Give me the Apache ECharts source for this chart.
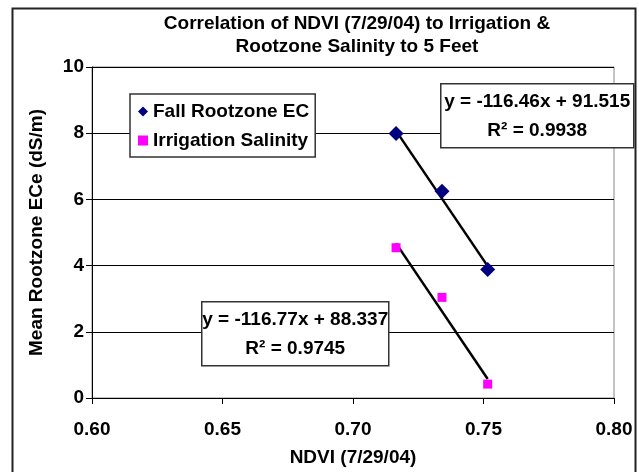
<!DOCTYPE html>
<html>
<head>
<meta charset="utf-8">
<style>
  html, body { margin: 0; padding: 0; background: #fff; }
  #chart { width: 639px; height: 472px; }
</style>
<script src="https://cdn.jsdelivr.net/npm/echarts@6/dist/echarts.min.js"></script>
</head>
<body>
<div id="chart"></div>
<script>
// NDVI on 7/29/04 for the three fields
const ndvi = [0.7165, 0.7341, 0.7516]
const fallRootzoneEC = [7.99, 6.25, 3.88]
const irrigationSalinity = [4.54, 3.04, 0.42]

// linear trendlines as printed on the chart
const fallFit = [-116.46, 91.515]
const irrigationFit = [-116.77, 88.337]
const fallLabel = ['y = -116.46x + 91.515', 'R² = 0.9938']
const irrigationLabel = ['y = -116.77x + 88.337', 'R² = 0.9745']

const font = 'Liberation Sans, Arial, sans-serif'
const fs = 19

function trend(fit) {
  const x0 = Math.min(...ndvi)
  const x1 = Math.max(...ndvi)
  return [[x0, fit[0] * x0 + fit[1]], [x1, fit[0] * x1 + fit[1]]]
}

function eqBox(left, top, width, lines) {
  return {
    type: 'group',
    left: left,
    top: top,
    z: 100,
    children: [
      {
        type: 'rect',
        z: 100,
        shape: { x: 0, y: 0, width: width, height: 64 },
        style: { fill: '#fff', stroke: '#333', lineWidth: 1.5 }
      },
      {
        type: 'text',
        z: 101,
        x: width / 2,
        y: 33,
        style: {
          text: lines.join('\n'),
          align: 'center',
          verticalAlign: 'middle',
          lineHeight: 29,
          font: 'bold ' + fs + 'px ' + font,
          fill: '#000'
        }
      }
    ]
  }
}

const chart = echarts.init(document.getElementById('chart'))

chart.setOption({
  backgroundColor: '#fff',
  animation: false,
  textStyle: { fontFamily: font },
  title: {
    text: 'Correlation of NDVI (7/29/04) to Irrigation &\nRootzone Salinity to 5 Feet',
    left: 352,
    top: 7,
    textAlign: 'center',
    textStyle: {
      fontSize: fs,
      fontWeight: 'bold',
      lineHeight: 23,
      color: '#000'
    }
  },
  legend: {
    data: ['Fall Rootzone EC', 'Irrigation Salinity'],
    orient: 'vertical',
    left: 130,
    top: 94,
    padding: [8, 6, 7, 8],
    itemGap: 10,
    itemWidth: 10,
    itemHeight: 10,
    backgroundColor: '#fff',
    borderColor: '#333',
    borderWidth: 1.5,
    z: 100,
    textStyle: { fontSize: fs, fontWeight: 'bold', color: '#000' }
  },
  grid: {
    left: 92,
    right: 25,
    top: 67,
    bottom: 72,
    show: true,
    borderColor: '#888',
    borderWidth: 1
  },
  xAxis: {
    type: 'value',
    min: 0.6,
    max: 0.8,
    interval: 0.05,
    name: 'NDVI (7/29/04)',
    nameLocation: 'middle',
    nameGap: 50,
    nameTextStyle: { fontSize: fs, fontWeight: 'bold', color: '#000' },
    axisLine: { lineStyle: { color: '#000', width: 1 } },
    axisTick: { show: true, length: 6, lineStyle: { color: '#000' } },
    axisLabel: {
      formatter: v => v.toFixed(2),
      fontSize: fs,
      fontWeight: 'bold',
      color: '#000',
      margin: 22
    },
    splitLine: { show: false }
  },
  yAxis: {
    type: 'value',
    min: 0,
    max: 10,
    interval: 2,
    name: 'Mean Rootzone ECe (dS/m)',
    nameLocation: 'middle',
    nameGap: 46,
    nameTextStyle: { fontSize: fs, fontWeight: 'bold', color: '#000' },
    axisLine: { show: true, lineStyle: { color: '#000', width: 1 } },
    axisTick: { show: true, length: 6, lineStyle: { color: '#000' } },
    axisLabel: { fontSize: fs, fontWeight: 'bold', color: '#000', margin: 8 },
    splitLine: { lineStyle: { color: '#000', width: 1 } }
  },
  series: [
    {
      name: 'Fall trend',
      type: 'line',
      data: trend(fallFit),
      symbol: 'none',
      lineStyle: { color: '#000', width: 2.5 },
      z: 2
    },
    {
      name: 'Irrigation trend',
      type: 'line',
      data: trend(irrigationFit),
      symbol: 'none',
      lineStyle: { color: '#000', width: 2.5 },
      z: 2
    },
    {
      name: 'Fall Rootzone EC',
      type: 'scatter',
      symbol: 'diamond',
      symbolSize: 15,
      itemStyle: { color: '#000080', opacity: 1 },
      data: ndvi.map((x, i) => [x, fallRootzoneEC[i]]),
      z: 3
    },
    {
      name: 'Irrigation Salinity',
      type: 'scatter',
      symbol: 'rect',
      symbolSize: 9,
      itemStyle: { color: '#ff00ff', opacity: 1 },
      data: ndvi.map((x, i) => [x, irrigationSalinity[i]]),
      z: 3
    }
  ],
  graphic: [
    {
      type: 'rect',
      left: 10,
      top: 6,
      z: 100,
      shape: { x: 0, y: 0, width: 623, height: 475 },
      style: { fill: 'none', stroke: '#222', lineWidth: 2 },
      silent: true
    },
    eqBox(440, 83, 193, fallLabel),
    eqBox(201, 301, 187, irrigationLabel)
  ]
})
</script>
</body>
</html>
